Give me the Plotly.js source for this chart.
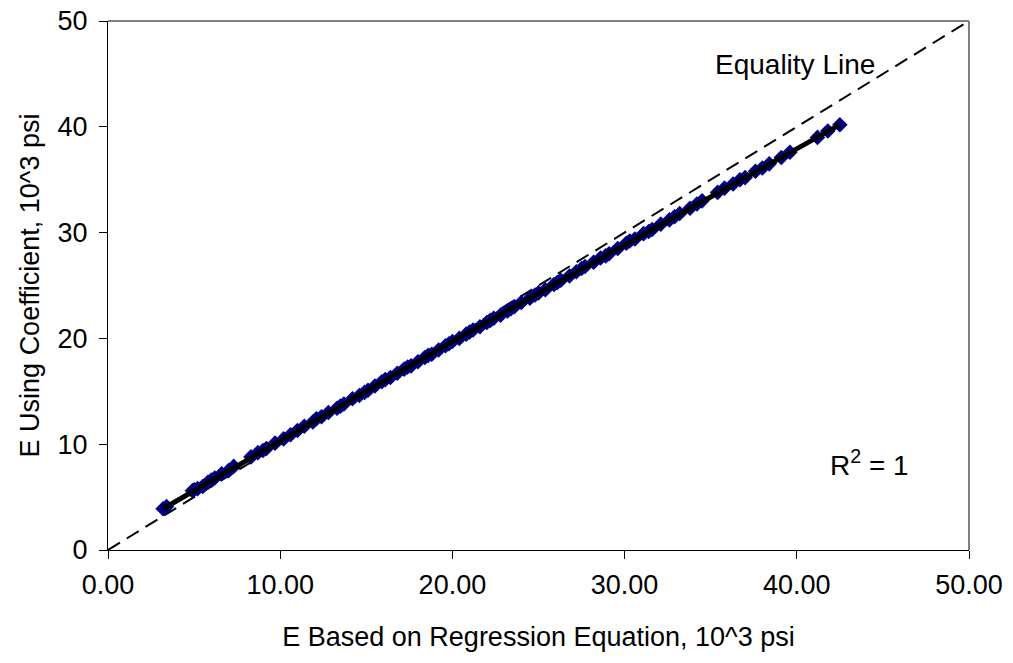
<!DOCTYPE html>
<html>
<head>
<meta charset="utf-8">
<script src="https://cdn.plot.ly/plotly-3.0.1.min.js"></script>
<style>html,body{margin:0;padding:0;background:#fff}#chart{width:1013px;height:663px}</style>
</head>
<body>
<div id="chart"></div>
<script>
// Data points (10^3 psi)
const regressionE = [3.2,3.4,4.9,5.0,5.2,5.5,5.8,6.0,6.2,6.6,7.0,7.3,8.3,8.7,9.0,9.2,9.7,10.2,10.6,11.0,11.4,11.9,12.1,12.4,12.8,13.3,13.5,13.7,14.2,14.6,14.9,15.1,15.5,15.9,16.1,16.4,16.8,17.2,17.4,17.6,18.0,18.4,18.6,18.8,19.2,19.6,19.8,20.0,20.4,20.8,21.0,21.2,21.6,22.0,22.2,22.4,22.8,23.2,23.4,23.6,24.0,24.5,24.8,25.0,25.4,25.9,26.1,26.3,26.8,27.2,27.5,27.7,28.2,28.6,28.9,29.1,29.6,30.1,30.3,30.6,31.1,31.4,31.6,32.1,32.6,32.9,33.2,33.8,34.2,34.5,35.4,35.8,36.3,36.7,37.0,37.6,38.0,38.4,39.1,39.6,41.2,41.8,42.5];
const coefficientE = [3.9,4.1,5.6,5.7,5.8,6.0,6.4,6.6,6.8,7.2,7.5,7.9,8.8,9.2,9.4,9.6,10.1,10.5,10.9,11.3,11.7,12.1,12.4,12.6,13.0,13.4,13.6,13.8,14.3,14.6,14.9,15.1,15.5,15.9,16.1,16.3,16.7,17.1,17.3,17.4,17.8,18.2,18.4,18.5,18.9,19.3,19.5,19.7,20.0,20.4,20.6,20.8,21.1,21.5,21.7,21.9,22.2,22.6,22.8,23.0,23.4,23.8,24.1,24.3,24.6,25.1,25.3,25.5,25.9,26.3,26.6,26.8,27.2,27.6,27.8,28.0,28.5,29.0,29.2,29.4,29.9,30.1,30.3,30.8,31.2,31.5,31.8,32.3,32.7,33.0,33.8,34.2,34.6,35.0,35.2,35.8,36.1,36.5,37.1,37.6,39.0,39.6,40.2];
// Trend line
const trendX = [3.2, 20.0, 42.5];
const trendY = [3.9, 19.7, 40.2];
// Equality line
const equalityX = [0, 50];
const equalityY = [0, 50];
const xTicks = [0, 10, 20, 30, 40, 50];
const xTickText = ["0.00", "10.00", "20.00", "30.00", "40.00", "50.00"];
const yTicks = [0, 10, 20, 30, 40, 50];

const font = "Liberation Sans, Arial, sans-serif";

const traces = [
  {x: equalityX, y: equalityY, mode: "lines", line: {color: "#000", width: 2, dash: "14px,8px"}, hoverinfo: "skip"},
  {x: regressionE, y: coefficientE, mode: "markers", marker: {symbol: "diamond", size: 12, color: "#000080", line: {width: 0}}},
  {x: trendX, y: trendY, mode: "lines", line: {color: "#000", width: 5}}
];

const layout = {
  width: 1013, height: 663,
  margin: {l: 108, r: 44, t: 21, b: 113},
  paper_bgcolor: "#fff", plot_bgcolor: "#fff",
  showlegend: false,
  font: {family: font, size: 27, color: "#000"},
  xaxis: {
    range: [0, 50], tickvals: xTicks, ticktext: xTickText,
    showgrid: false, zeroline: false, showline: true, linecolor: "#000", linewidth: 1,
    ticks: "outside", ticklen: 8, tickcolor: "#000",
    ticklabelstandoff: 3,
    tickfont: {family: font, size: 27},
    title: {text: "E Based on Regression Equation, 10^3 psi", font: {family: font, size: 27}, standoff: 27}
  },
  yaxis: {
    range: [0, 50], tickvals: yTicks,
    showgrid: false, zeroline: false, showline: true, linecolor: "#000", linewidth: 1,
    ticks: "outside", ticklen: 8, tickcolor: "#000",
    ticklabelstandoff: 6,
    tickfont: {family: font, size: 27},
    title: {text: "E Using Coefficient, 10^3 psi", font: {family: font, size: 27}, standoff: 10}
  },
  shapes: [
    {type: "line", xref: "paper", yref: "paper", x0: 0, x1: 1, y0: 1, y1: 1, line: {color: "#808080", width: 2}},
    {type: "line", xref: "paper", yref: "paper", x0: 1, x1: 1, y0: 0, y1: 1, line: {color: "#808080", width: 2}}
  ],
  annotations: [
    {x: 39.9, y: 45.9, xref: "x", yref: "y", text: "Equality Line", showarrow: false, font: {family: font, size: 28}},
    {x: 44.2, y: 8.2, xref: "x", yref: "y", text: "R<sup>2</sup> = 1", showarrow: false, font: {family: font, size: 28}}
  ]
};

Plotly.newPlot("chart", traces, layout, {displayModeBar: false, staticPlot: true});
</script>
</body>
</html>
